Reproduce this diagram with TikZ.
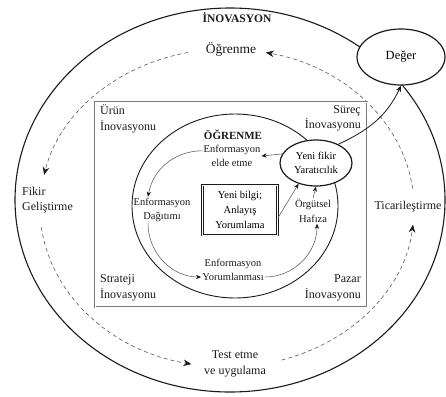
\documentclass[tikz,border=0pt]{standalone}
\usepackage{fontspec}
\setmainfont{Liberation Serif}
\usepackage{xcolor}
\usetikzlibrary{arrows.meta,positioning,shapes.geometric,calc}
\definecolor{ink}{HTML}{1A1A1A}
\definecolor{inkgray}{HTML}{5A5A5A}
\definecolor{framegray}{HTML}{7A7A7A}
\tikzset{
  ring/.style={draw=ink,line width=1.1pt},
  frame/.style={draw=framegray,double=white,double distance=1pt,line width=0.7pt},
  outlbl/.style={font=\fontsize{12}{15.5}\selectfont,align=center,inner sep=1pt,text=ink},
  inlbl/.style={font=\fontsize{10.5}{14.5}\selectfont,align=center,inner sep=1pt,text=ink},
  oval/.style={ellipse,draw=ink,fill=white,line width=1.2pt,inner sep=0pt,
               align=center,font=\fontsize{10.5}{14.5}\selectfont},
  infobox/.style={draw=ink,double=white,double distance=0.9pt,line width=0.7pt,
                  minimum width=75pt,minimum height=50pt,align=center,
                  font=\fontsize{10.5}{15}\selectfont},
  dasharr/.style={-{Stealth[length=2.8mm,width=2.3mm,color=ink]},draw=inkgray,
                  line width=0.6pt,dash pattern=on 4pt off 3pt},
  thinarr/.style={-{Stealth[length=1.8mm,width=1.5mm,color=ink]},draw=inkgray,line width=0.55pt},
  solidarr/.style={-{Stealth[length=2.2mm,width=1.8mm]},draw=ink,line width=0.8pt}
}
\begin{document}
\begin{tikzpicture}[x=1pt,y=1pt]
    \path[use as bounding box] (0,0) rectangle (446,-396);

    % outer ring and the dashed cycle
    \draw[ring] (230,-200) ellipse [x radius=215,y radius=192];
    \node[font=\bfseries\fontsize{11.5}{13}\selectfont,text=ink] (inov) at (237,-18) {İNOVASYON};
    \node[oval,minimum width=88pt,minimum height=56pt,font=\fontsize{12.5}{14}\selectfont]
      (deger) at (401,-57) {Değer};

    \coordinate (mid) at (227,-208);
    \node[outlbl,font=\fontsize{13.5}{15}\selectfont] (ogr) at (231,-49) {Öğrenme};
    \node[outlbl,align=left,anchor=west] (fikir) at (21,-200) {Fikir\\Geliştirme};
    \node[outlbl] (test) at (235,-364) {Test etme\\ve uygulama};
    \node[outlbl] (tic) at (408,-207) {Ticarileştirme};
    \foreach \a/\b in {7/78,102/168,187/259,287/354}{
      \draw[dasharr] ($(mid)+(\a:187 and 159)$)
        arc[start angle=\a,end angle=\b,x radius=187,y radius=159];
    }

    % frame with the four kinds of innovation
    \draw[frame] (95,-102) rectangle (367,-307);
    \node[outlbl,align=left,anchor=north west] (urun) at (99,-104) {Ürün\\İnovasyonu};
    \node[outlbl,align=right,anchor=north east] (surec) at (362,-104) {Süreç\\İnovasyonu};
    \node[outlbl,align=left,anchor=south west] (strateji) at (99,-302) {Strateji\\İnovasyonu};
    \node[outlbl,align=right,anchor=south east] (pazar) at (362,-302) {Pazar\\İnovasyonu};

    % learning cycle
    \draw[ring,line width=0.9pt] (235,-206) ellipse [x radius=103,y radius=92];
    \node[font=\bfseries\fontsize{11}{13}\selectfont,text=ink] (ogrb) at (233,-135) {ÖĞRENME};
    \node[inlbl] (elde) at (232,-156) {Enformasyon\\elde etme};
    \node[inlbl] (dagit) at (162,-210) {Enformasyon\\Dağıtımı};
    \node[inlbl] (yorum) at (233,-270) {Enformasyon\\Yorumlanması};
    \node[inlbl] (hafiza) at (313,-211) {Örgütsel\\Hafıza};
    \node[infobox] (bilgi) at (240,-210) {Yeni bilgi;\\Anlayış\\Yorumlama};
    \node[oval,minimum width=72pt,minimum height=46pt] (yeni) at (316,-163)
      {Yeni fikir\\Yaratıcılık};

    \draw[thinarr] (yeni.165) -- (elde.east);
    \draw[thinarr] (elde.170) to[out=180,in=80] ([xshift=-14pt]dagit.north);
    \draw[thinarr] ([xshift=-14pt]dagit.south) to[out=-90,in=180] ([yshift=-7pt]yorum.west);
    \draw[thinarr] ([yshift=-7pt]yorum.east) to[out=0,in=-90] ([xshift=4pt]hafiza.south);
    \draw[thinarr] (hafiza.north) -- (yeni.south);
    \draw[thinarr] ([yshift=-8pt]bilgi.east) -- (yeni.-130);
    \draw[solidarr] (yeni.40) to[out=25,in=-115] (deger.south);
  \end{tikzpicture}
\end{document}
